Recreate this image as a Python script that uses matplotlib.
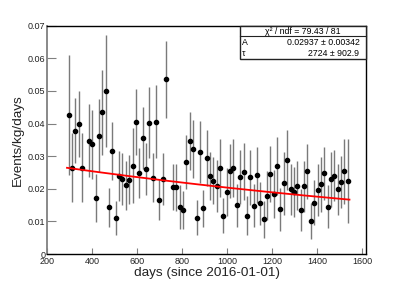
import matplotlib
matplotlib.use('Agg')
import matplotlib.pyplot as plt
from matplotlib.patches import Rectangle
from matplotlib.lines import Line2D
import numpy as np

# ---- data ----
days = [295, 310, 325, 340, 355, 385, 400, 415, 429, 444, 459, 474, 489, 504,
        519, 534, 549, 564, 579, 594, 609, 624, 639, 654, 669, 683, 698, 713,
        728, 758, 773, 788, 803, 818, 833, 848, 863, 878, 893, 908, 922, 937,
        952, 967, 982, 997, 1012, 1027, 1042, 1057, 1072, 1087, 1102, 1117,
        1131, 1147, 1162, 1176, 1191, 1206, 1221, 1236, 1251, 1266, 1281, 1296,
        1311, 1326, 1341, 1356, 1371, 1386, 1401, 1416, 1430, 1445, 1460, 1475,
        1490, 1505, 1520, 1535]
rate = [0.0426, 0.0265, 0.0378, 0.0398, 0.0265, 0.0348, 0.0336, 0.0171, 0.0363,
        0.0434, 0.0500, 0.0143, 0.0316, 0.0110, 0.0239, 0.0230, 0.0211, 0.0228,
        0.0271, 0.0405, 0.0249, 0.0355, 0.0260, 0.0403, 0.0234, 0.0405, 0.0166,
        0.0230, 0.0536, 0.0206, 0.0205, 0.0145, 0.0135, 0.0283, 0.0346, 0.0322,
        0.0111, 0.0313, 0.0140, 0.0294, 0.0240, 0.0225, 0.0209, 0.0265, 0.0117,
        0.0189, 0.0255, 0.0263, 0.0150, 0.0235, 0.0252, 0.0118, 0.0235, 0.0148,
        0.0242, 0.0155, 0.0106, 0.0179, 0.0244, 0.0183, 0.0270, 0.0137, 0.0217,
        0.0288, 0.0198, 0.0191, 0.0210, 0.0135, 0.0207, 0.0253, 0.0101, 0.0157,
        0.0196, 0.0214, 0.0247, 0.0145, 0.0229, 0.0240, 0.0198, 0.0220, 0.0253,
        0.0224]
rate_err = [0.0184, 0.0106, 0.0100, 0.0101, 0.0106, 0.0111, 0.0106, 0.0073,
            0.0111, 0.0130, 0.0171, 0.0059, 0.0088, 0.0051, 0.0078, 0.0079,
            0.0075, 0.0076, 0.0115, 0.0101, 0.0077, 0.0095, 0.0079, 0.0110,
            0.0076, 0.0112, 0.0063, 0.0079, 0.0118, 0.0070, 0.0072, 0.0068,
            0.0057, 0.0083, 0.0089, 0.0089, 0.0054, 0.0096, 0.0057, 0.0086,
            0.0074, 0.0071, 0.0079, 0.0089, 0.0054, 0.0074, 0.0082, 0.0089,
            0.0066, 0.0083, 0.0087, 0.0061, 0.0084, 0.0066, 0.0087, 0.0066,
            0.0056, 0.0074, 0.0086, 0.0074, 0.0089, 0.0066, 0.0097, 0.0092,
            0.0077, 0.0077, 0.0074, 0.0063, 0.0077, 0.0083, 0.0055, 0.0069,
            0.0079, 0.0084, 0.0081, 0.0066, 0.0084, 0.0079, 0.0079, 0.0079,
            0.0100, 0.0130]

fit_A = 0.02937
fit_A_err = 0.00342
fit_tau = 2724
fit_tau_err = 902.9
chi2 = 79.43
ndf = 81
fit_range = [287.5, 1542.5]

xticks = [200, 400, 600, 800, 1000, 1200, 1400, 1600]
yticks = [0, 0.01, 0.02, 0.03, 0.04, 0.05, 0.06, 0.07]
ytick_labels = ['0', '0.01', '0.02', '0.03', '0.04', '0.05', '0.06', '0.07']

xlabel = 'days (since 2016-01-01)'
ylabel = 'Events/kg/days'

# ---- figure ----
plt.rcParams['font.family'] = ['Liberation Sans', 'DejaVu Sans']
W, H = 399, 287
fig = plt.figure(figsize=(W / 100, H / 100), dpi=100)
ax = fig.add_axes([47.3 / W, 33 / H, 318.7 / W, 228.3 / H])

ax.errorbar(days, rate, yerr=rate_err, fmt='o', color='black', ecolor='#7a7a7a',
            elinewidth=1.0, markersize=3.0, capsize=0, zorder=3)

t = np.linspace(fit_range[0], fit_range[1], 300)
ax.plot(t, fit_A * np.exp(-t / fit_tau), color='red', lw=1.3, zorder=4)

ax.set_xlim(200, 1616)
ax.set_ylim(0, 0.07)
ax.set_xticks(xticks)
ax.set_xticklabels([str(v) for v in xticks])
ax.set_yticks(yticks)
ax.set_yticklabels(ytick_labels)
ax.tick_params(axis='both', direction='in', labelsize=6.5, colors='black',
               labelcolor='#222222', top=False, right=False)
ax.tick_params(axis='y', length=6.5, width=0.8, pad=1.5)
ax.tick_params(axis='x', length=4.3, width=0.8, pad=2.0)
ax.tick_params(axis='x', colors='#808080', labelcolor='#222222')
ax.tick_params(axis='y', colors='#808080', labelcolor='#222222')
for s in ax.spines.values():
    s.set_linewidth(1.0)
    s.set_color('black')
ax.spines['left'].set_color('#808080')
ax.spines['left'].set_linewidth(1.3)

ax.set_xlabel(xlabel, fontsize=9.7, color='#222222')
ax.set_ylabel(ylabel, fontsize=9.7, color='#222222')
ax.xaxis.set_label_coords(0.5, -0.058)
ax.yaxis.set_label_coords(-0.075, 0.5)

# ---- stats box ----
bx0, bx1 = 240 / W, 366 / W
by0, by1 = 1 - 59.3 / H, 1 - 26 / H
fig.patches.append(Rectangle((bx0, by0), bx1 - bx0, by1 - by0, transform=fig.transFigure,
                             facecolor='white', edgecolor='#222222', lw=1.0, zorder=5))
sep_y = 1 - 36 / H
fig.lines.append(Line2D([bx0, bx1], [sep_y, sep_y], transform=fig.transFigure,
                        color='#222222', lw=0.8, zorder=6))
fs = 6.3
fig.text((bx0 + bx1) / 2, 1 - 31.2 / H, f'\u03c7\u00b2 / ndf = {chi2:.2f} / {ndf}',
         ha='center', va='center', fontsize=fs, zorder=7)
fig.text(242 / W, 1 - 42.5 / H, 'A', ha='left', va='center', fontsize=fs, zorder=7)
fig.text(359.5 / W, 1 - 42.5 / H, f'{fit_A:.5f} \u00b1 {fit_A_err:.5f}',
         ha='right', va='center', fontsize=fs, zorder=7)
fig.text(242 / W, 1 - 53.3 / H, '\u03c4', ha='left', va='center', fontsize=fs, zorder=7)
fig.text(359.5 / W, 1 - 53.3 / H, f'{fit_tau} \u00b1 {fit_tau_err}',
         ha='right', va='center', fontsize=fs, zorder=7)

fig.savefig('out.png', dpi=100)
